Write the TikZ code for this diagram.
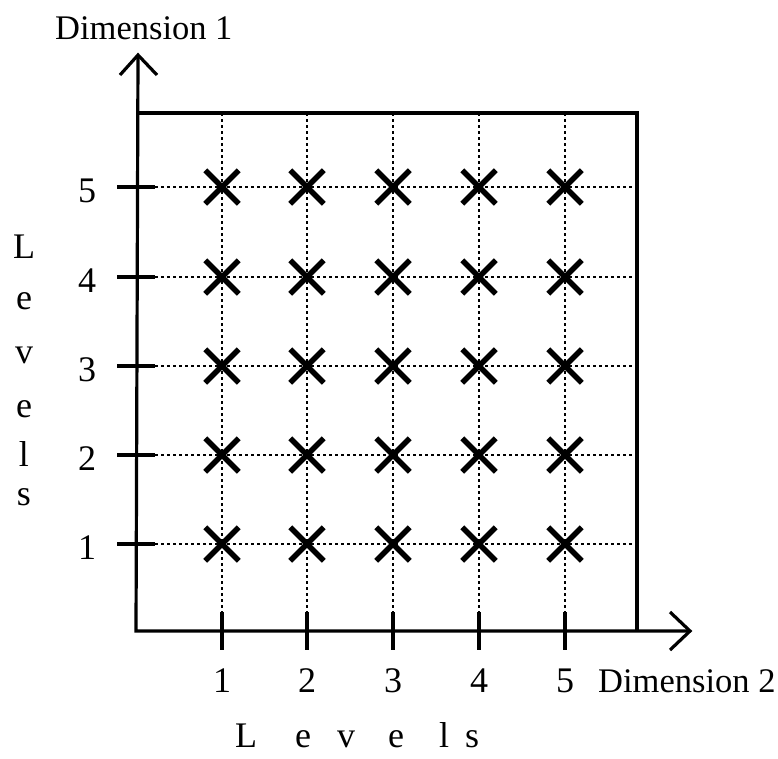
\documentclass[tikz,border=0pt]{standalone}
\usepackage{fontspec}
\setmainfont{Liberation Serif}
\usetikzlibrary{shapes.misc}
\begin{document}
\begin{tikzpicture}[x=1pt,y=-1pt,
  lbl/.style={font=\fontsize{36}{40}\selectfont, inner sep=0pt, anchor=base},
  titlelbl/.style={font=\fontsize{34.5}{40}\selectfont, inner sep=0pt, anchor=base west},
  axisline/.style={line width=3.2pt},
  gridline/.style={line width=1.2pt, dash pattern=on 3pt off 3pt},
  crossmark/.style={cross out, draw, line width=5.5pt, minimum size=28pt, inner sep=0pt},
  tickline/.style={line width=3.2pt}]
\useasboundingbox (0,0) rectangle (778,758);
% axes
\coordinate (O) at (136,631);
\coordinate (ytip) at (138,55);
\coordinate (xtip) at (690,631);
\coordinate (ya1) at (120,75);
\coordinate (ya2) at (157,75);
\coordinate (xa1) at (670,612);
\coordinate (xa2) at (670,650);
\draw[axisline] (ytip) -- (O) -- (xtip);
\draw[axisline] (ya1) -- (ytip) -- (ya2);
\draw[axisline] (xa1) -- (xtip) -- (xa2);
% box
\coordinate (bl) at (137,113);
\coordinate (br) at (637,113);
\coordinate (bb) at (637,631);
\draw[axisline] (bl) -- (br) -- (bb);
% grid, ticks, labels
\foreach \i/\x in {1/222,2/307,3/393,4/479,5/565}{
  \coordinate (vt\i) at (\x,113);
  \coordinate (vb\i) at (\x,612);
  \coordinate (tb\i) at (\x,650);
  \draw[gridline] (vt\i) -- (vb\i);
  \draw[tickline] (vb\i) -- (tb\i);
  \node[lbl] (xl\i) at (\x,692) {\i};
}
\foreach \j/\y in {1/544,2/455,3/366,4/277,5/187}{
  \coordinate (hl\j) at (155,\y);
  \coordinate (hr\j) at (632,\y);
  \coordinate (tl\j) at (117,\y);
  \draw[gridline] (hl\j) -- (hr\j);
  \draw[tickline] (tl\j) -- (hl\j);
  \node[lbl] (yl\j) at (87,\y+15) {\j};
}
% crosses
\foreach \i/\x in {1/222,2/307,3/393,4/479,5/565}{
  \foreach \j/\y in {1/544,2/455,3/366,4/277,5/187}{
    \node[crossmark] (c\i\j) at (\x,\y) {};
  }
}
% axis titles
\node[titlelbl] (d1) at (55,39) {Dimension 1};
\node[titlelbl] (d2) at (598,692) {Dimension 2};
% vertical Levels
\node[lbl] (vL1) at (24,258) {L};
\node[lbl] (vL2) at (24,309) {e};
\node[lbl] (vL3) at (24,363) {v};
\node[lbl] (vL4) at (24,417) {e};
\node[lbl] (vL5) at (24,466) {l};
\node[lbl] (vL6) at (24,505) {s};
% horizontal Levels
\node[lbl] (hL1) at (246,747) {L};
\node[lbl] (hL2) at (303,747) {e};
\node[lbl] (hL3) at (346,747) {v};
\node[lbl] (hL4) at (396,747) {e};
\node[lbl] (hL5) at (444,747) {l};
\node[lbl] (hL6) at (472,747) {s};
\end{tikzpicture}
\end{document}
